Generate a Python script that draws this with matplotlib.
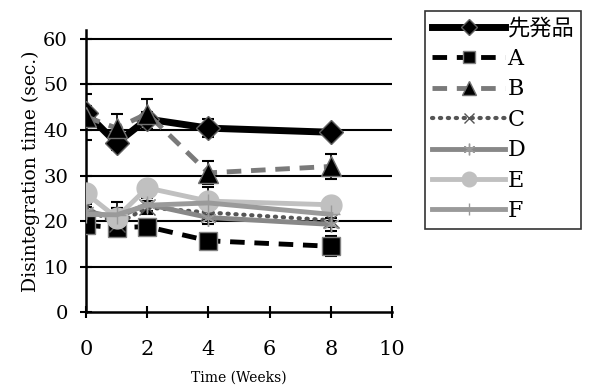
import matplotlib
matplotlib.use("Agg")
import matplotlib.pyplot as plt

# -------------------------
# Data
# -------------------------
weeks = [0, 1, 2, 4, 8]
labels = ["先発品", "A", "B", "C", "D", "E", "F"]

original = [43.8, 37.1, 42.4, 40.4, 39.5]
prod_a = [19.1, 18.6, 18.8, 15.7, 14.5]
prod_b = [42.9, 40.4, 43.6, 30.6, 32.0]
prod_c = [23.0, 19.3, 23.0, 21.9, 20.2]
prod_d = [22.2, 20.8, 23.7, 20.8, 19.3]
prod_e = [26.1, 20.8, 27.3, 24.4, 23.6]
prod_f = [21.5, 21.4, 23.5, 24.0, 21.5]

err_original = [1.5, 1.5, 1.5, 2.0, 1.0]
err_a = [1.0, 1.5, 1.0, 1.5, 2.2]
err_b = [5.0, 3.0, 3.3, 2.5, 2.7]
err_c = [1.5, 2.0, 1.5, 1.5, 1.5]
err_d = [1.5, 2.0, 1.5, 1.5, 1.5]
err_e = [1.5, 3.5, 1.5, 3.1, 1.5]
err_f = [1.5, 1.5, 1.5, 1.5, 1.5]

series = [original, prod_a, prod_b, prod_c, prod_d, prod_e, prod_f]
errors = [err_original, err_a, err_b, err_c, err_d, err_e, err_f]

styles = [
    dict(color="black", lw=5, ls="-", marker="D", ms=12, mfc="black", mec="#606060"),
    dict(color="black", lw=3.5, ls=(0, (3, 2)), marker="s", ms=13, mfc="black", mec="#808080"),
    dict(color="#7a7a7a", lw=3.5, ls=(0, (3, 2)), marker="^", ms=14, mfc="black", mec="#707070"),
    dict(color="#555555", lw=3, ls=(0, (0.3, 1.6)), marker="x", ms=11, mfc="#555555", mec="#555555", dash_capstyle="round"),
    dict(color="#888888", lw=3.5, ls="-", marker=(6, 2, 0), ms=12, mfc="#888888", mec="#999999"),
    dict(color="#c0c0c0", lw=3.5, ls="-", marker="o", ms=15, mfc="#c0c0c0", mec="#c0c0c0"),
    dict(color="#9a9a9a", lw=3.5, ls="-", marker="+", ms=13, mfc="#9a9a9a", mec="#9a9a9a"),
]

plt.rcParams["font.family"] = ["DejaVu Serif", "Noto Sans CJK JP"]

fig = plt.figure(figsize=(5.89, 3.90), dpi=100)
ax = fig.add_axes([0.146, 0.199, 0.5195, 0.725])

# -------------------------
# Plot lines + error bars
# -------------------------
handles = []
for vals, errs, lab, st in zip(series, errors, labels, styles):
    ax.errorbar(weeks, vals, yerr=errs, fmt="none", ecolor="black",
                elinewidth=1.2, capsize=4, capthick=1.5, zorder=2)
    (h,) = ax.plot(weeks, vals, label=lab, zorder=3, **st)
    handles.append(h)

ax.set_xlim(0, 10)
ax.set_ylim(0, 62)
ax.set_xticks([0, 2, 4, 6, 8, 10])
ax.set_yticks([0, 10, 20, 30, 40, 50, 60])
for yv in [10, 20, 30, 40, 50, 60]:
    ax.axhline(yv, color="black", lw=1.5, zorder=1)

for side in ["top", "right"]:
    ax.spines[side].set_visible(False)
for side in ["left", "bottom"]:
    ax.spines[side].set_linewidth(1.8)
ax.tick_params(direction="inout", length=8, width=1.5)
ax.tick_params(axis="x", labelsize=15, pad=16)
ax.tick_params(axis="y", labelsize=14, pad=9)

ax.set_xlabel("Time (Weeks)", fontsize=10, labelpad=8)
ax.set_ylabel("Disintegration time (sec.)", fontsize=13.5, labelpad=2)

leg = fig.legend(handles=handles, loc="upper left",
                 bbox_to_anchor=(0.722, 0.972), fontsize=16,
                 handlelength=3.3, handletextpad=0.1, labelspacing=0.38,
                 borderpad=0.3, borderaxespad=0, fancybox=False, frameon=True,
                 markerscale=0.7)
leg.get_frame().set_edgecolor("black")
leg.get_frame().set_linewidth(1.2)

fig.savefig("out.png", dpi=100)
